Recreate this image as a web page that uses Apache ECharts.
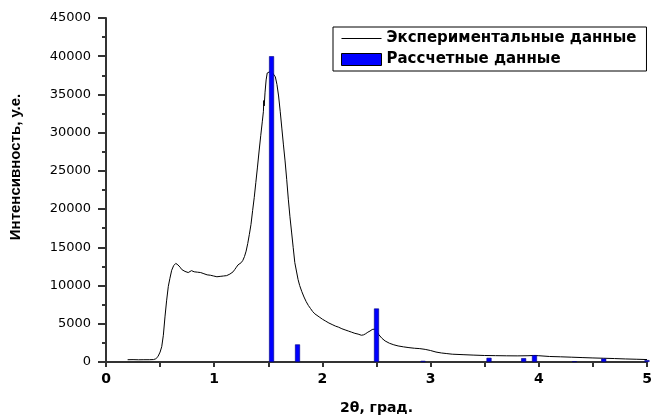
<!DOCTYPE html>
<html><head><meta charset="utf-8">
<script src="https://cdn.jsdelivr.net/npm/echarts@6/dist/echarts.min.js"></script>
<style>html,body{margin:0;padding:0;background:#fff}#c{width:651px;height:418px}</style>
</head><body><div id="c"></div>
<script>
// Experimental curve (2θ, intensity)
const expX = [0.20,0.25,0.30,0.35,0.40,0.44,0.46,0.48,0.50,0.515,0.53,0.545,0.56,0.576,0.59,0.607,0.625,0.645,0.655,0.665,0.675,0.685,0.70,0.715,0.73,0.745,0.76,0.775,0.79,0.80,0.815,0.83,0.845,0.86,0.875,0.89,0.905,0.92,0.935,0.95,0.965,0.98,0.995,1.01,1.025,1.04,1.055,1.07,1.085,1.10,1.115,1.13,1.145,1.16,1.175,1.19,1.205,1.22,1.235,1.25,1.265,1.28,1.295,1.31,1.325,1.34,1.355,1.37,1.385,1.40,1.415,1.43,1.445,1.455,1.458,1.462,1.47,1.48,1.49,1.50,1.51,1.52,1.535,1.55,1.565,1.58,1.595,1.61,1.625,1.64,1.655,1.67,1.685,1.70,1.715,1.73,1.745,1.76,1.775,1.79,1.81,1.83,1.85,1.87,1.89,1.91,1.93,1.95,1.97,2.00,2.03,2.06,2.09,2.12,2.15,2.18,2.21,2.24,2.27,2.30,2.33,2.36,2.38,2.40,2.42,2.44,2.46,2.48,2.50,2.52,2.55,2.58,2.62,2.66,2.70,2.75,2.80,2.85,2.90,2.95,3.00,3.05,3.10,3.15,3.20,3.30,3.40,3.50,3.60,3.70,3.80,3.90,3.95,4.00,4.10,4.20,4.30,4.40,4.50,4.60,4.70,4.80,4.90,5.00];
const expY = [300,310,290,300,300,320,420,700,1300,2000,3500,5900,8000,9900,10900,12000,12600,12900,13000,12700,12500,12400,12100,11900,11850,12000,11700,11850,11950,11700,11800,11900,11750,11950,11700,11650,11550,11500,11400,11450,11350,11300,11250,11300,11150,11250,11200,11300,11250,11350,11300,11400,11500,11700,11800,12100,12400,12700,12900,13000,13300,13800,14500,15500,16700,18000,19800,21500,23500,25500,27600,29600,31500,32800,34200,33500,35300,36900,37800,37900,37950,38000,37900,37700,37300,36300,34800,32800,30600,28400,26300,23900,21300,19000,17000,15000,13000,11900,10800,10000,9200,8500,7900,7400,7000,6600,6300,6100,5900,5600,5350,5100,4900,4700,4550,4350,4200,4050,3900,3750,3650,3500,3550,3700,3900,4050,4250,4300,4100,3600,3100,2750,2450,2250,2100,1980,1880,1800,1750,1650,1500,1300,1180,1100,1020,960,900,850,830,810,800,820,850,820,720,680,630,580,530,490,450,400,360,320];
// Calculated peaks
const calcX = [1.53,1.77,2.50,2.93,3.54,3.86,3.96,4.33,4.60,5.00];
const calcY = [40000,2300,7000,150,550,500,900,100,450,250];
const seriesNames = ['Экспериментальные данные','Рассчетные данные'];
const xTitle = '2θ, град.';
const yTitle = 'Интенсивность, у.е.';

const chart = echarts.init(document.getElementById('c'), null, {renderer:'canvas'});
const axisCol = '#333';
chart.setOption({
  animation:false,
  backgroundColor:'#fff',
  grid:{left:106,right:4,top:18,bottom:56,containLabel:false,outerBoundsMode:'none'},
  legend:{
    orient:'vertical', left:333, top:27,
    padding:[4,10,4,8], itemGap:6, itemWidth:40, itemHeight:12,
    borderColor:'#000', borderWidth:1, backgroundColor:'#fff',
    textStyle:{fontFamily:'DejaVu Sans',fontWeight:'bold',fontSize:15,color:'#000'},
    data:[
      {name:seriesNames[0],icon:'path://M0,0H40V1H0Z',itemStyle:{color:'#000'}},
      {name:seriesNames[1],icon:'rect',itemStyle:{color:'#0000ff',borderColor:'#000',borderWidth:1}}
    ]
  },
  xAxis:{
    type:'value', min:0, max:5, interval:1,
    name:xTitle, nameLocation:'middle', nameGap:39,
    nameTextStyle:{fontFamily:'DejaVu Sans',fontWeight:'bold',fontSize:14,color:'#000'},
    axisLine:{show:true,onZero:false,lineStyle:{color:axisCol,width:2}},
    axisTick:{show:true,length:5,lineStyle:{color:axisCol,width:2}},
    minorTick:{show:true,splitNumber:2,length:5,lineStyle:{color:axisCol,width:2}},
    axisLabel:{fontFamily:'DejaVu Sans',fontWeight:'bold',fontSize:14,color:'#000',margin:10},
    splitLine:{show:false}
  },
  yAxis:{
    type:'value', min:0, max:45000, interval:5000,
    name:yTitle, nameLocation:'middle', nameGap:83, nameRotate:90,
    nameTextStyle:{fontFamily:'Liberation Sans',fontWeight:'bold',fontSize:15,color:'#000',padding:[0,0,0,46]},
    axisLine:{show:true,lineStyle:{color:axisCol,width:2}},
    axisTick:{show:true,length:8,lineStyle:{color:axisCol,width:2}},
    minorTick:{show:true,splitNumber:2,length:4,lineStyle:{color:axisCol,width:2}},
    axisLabel:{fontFamily:'DejaVu Sans',fontSize:13,color:'#000',margin:15,formatter:v=>String(v)},
    splitLine:{show:false}
  },
  series:[
    {name:seriesNames[0],type:'line',symbol:'none',z:2,
     lineStyle:{color:'#000',width:1},itemStyle:{color:'#000'},
     data:expX.map((x,i)=>[x,expY[i]])},
    {name:seriesNames[1],type:'bar',barWidth:5,z:3,
     itemStyle:{color:'#0000ff',borderColor:'#00007a',borderWidth:0.6},
     data:calcX.map((x,i)=>[x,calcY[i]])}
  ]
});
</script></body></html>
